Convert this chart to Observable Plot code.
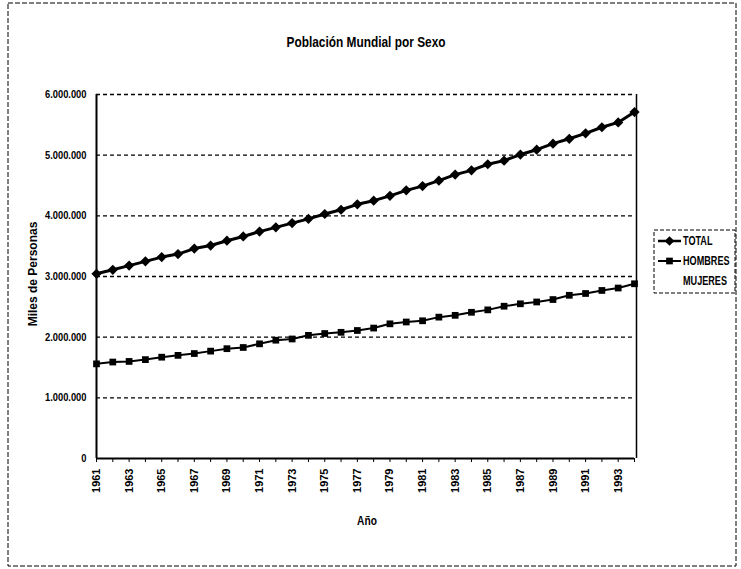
<!DOCTYPE html>
<html>
<head>
<meta charset="utf-8">
<script src="https://cdn.jsdelivr.net/npm/d3@7"></script>
<script src="https://cdn.jsdelivr.net/npm/@observablehq/plot@0.6"></script>
<style>
  html, body { margin: 0; padding: 0; background: #fff; }
  #chart svg { display: block; }
</style>
</head>
<body>
<div id="chart"></div>
<script>
const title = "Población Mundial por Sexo";
const yLabel = "Miles de Personas";
const xLabel = "Año";
const seriesNames = ["TOTAL", "HOMBRES", "MUJERES"];
const years = [1961,1962,1963,1964,1965,1966,1967,1968,1969,1970,1971,1972,1973,1974,1975,1976,1977,
               1978,1979,1980,1981,1982,1983,1984,1985,1986,1987,1988,1989,1990,1991,1992,1993,1994];
const total = [3045000,3110000,3180000,3250000,3320000,3370000,3460000,3510000,3590000,3660000,3740000,3810000,3880000,3950000,4030000,4100000,4190000,
               4250000,4330000,4420000,4490000,4580000,4680000,4750000,4850000,4910000,5010000,5090000,5190000,5270000,5360000,5460000,5540000,5710000];
const hombres = [1560000,1590000,1600000,1630000,1670000,1700000,1730000,1770000,1810000,1830000,1890000,1950000,1970000,2030000,2060000,2080000,2110000,
                 2150000,2220000,2250000,2270000,2330000,2360000,2410000,2450000,2510000,2550000,2580000,2620000,2690000,2720000,2770000,2810000,2880000];
const yTicks = [0,1000000,2000000,3000000,4000000,5000000,6000000];
const xTickLabels = [1961,1963,1965,1967,1969,1971,1973,1975,1977,1979,1981,1983,1985,1987,1989,1991,1993];

const FONT = '"Liberation Sans Narrow","Arial Narrow","Liberation Sans",Arial,sans-serif';
const fmt = d3.formatLocale({decimal: ",", thousands: ".", grouping: [3], currency: ["", ""]}).format(",");

const totalData = years.map((y, i) => ({year: y, value: total[i]}));
const hombresData = years.map((y, i) => ({year: y, value: hombres[i]}));

const W = 741, H = 569;
const plot = Plot.plot({
  width: W,
  height: H,
  marginLeft: 96,
  marginRight: 107,
  marginTop: 94,
  marginBottom: 111,
  style: {fontFamily: FONT, fontWeight: "bold", fontSize: "11px", color: "#000", background: "#fff"},
  x: {domain: [1961, 1994], label: null},
  y: {domain: [0, 6000000], label: null},
  marks: [
    Plot.ruleY(yTicks.filter(d => d > 0), {stroke: "#000", strokeWidth: 1.3, strokeDasharray: "4,3"}),
    Plot.axisY({ticks: yTicks, tickFormat: fmt, tickSize: 0, tickPadding: 10, fontSize: 11, fontWeight: "bold", label: null}),
    Plot.axisX({ticks: years, tickFormat: d => xTickLabels.includes(d) ? String(d) : "", tickSize: 4, tickPadding: 6,
                tickRotate: -90, fontSize: 11, fontWeight: "bold", label: null}),
    Plot.ruleX([1961], {stroke: "#000", strokeWidth: 2}),
    Plot.ruleX([1994], {stroke: "#000", strokeWidth: 1.5, dx: 2}),
    Plot.ruleY([0], {stroke: "#000", strokeWidth: 2}),
    Plot.line(totalData, {x: "year", y: "value", stroke: "#000", strokeWidth: 3}),
    Plot.dot(totalData, {x: "year", y: "value", symbol: "diamond2", fill: "#000", r: 4.6}),
    Plot.line(hombresData, {x: "year", y: "value", stroke: "#000", strokeWidth: 2}),
    Plot.dot(hombresData, {x: "year", y: "value", symbol: "square", fill: "#000", r: 3.8})
  ]
});

const svg = d3.select(plot);
// condense y tick labels to mimic the narrow typeface of the original
svg.selectAll('g[aria-label="y-axis tick label"] text').each(function() {
  const t = this.getAttribute("transform") || "";
  this.setAttribute("transform", t + " scale(0.85,1)");
});
// outer dashed border
svg.append("rect").attr("x", 8).attr("y", 3).attr("width", 728).attr("height", 563)
  .attr("fill", "none").attr("stroke", "#000").attr("stroke-width", 1).attr("stroke-dasharray", "5,2");
// title
svg.append("text").attr("transform", "translate(366,47) scale(0.82,1)").attr("text-anchor", "middle")
  .style("font-family", FONT).style("font-weight", "bold").style("font-size", "14.5px").text(title);
// y label
svg.append("text").attr("transform", "translate(37,274) rotate(-90)").attr("text-anchor", "middle")
  .style("font-family", FONT).style("font-weight", "bold").style("font-size", "12px").text(yLabel);
// x label
svg.append("text").attr("transform", "translate(367,525) scale(0.85,1)").attr("text-anchor", "middle")
  .style("font-family", FONT).style("font-weight", "bold").style("font-size", "12px").text(xLabel);

// legend
const lg = svg.append("g");
lg.append("rect").attr("x", 654).attr("y", 230).attr("width", 81).attr("height", 63)
  .attr("fill", "#fff").attr("stroke", "#000").attr("stroke-width", 1).attr("stroke-dasharray", "4,2");
const rows = [241, 261, 281];
const sym = [d3.symbolDiamond2, d3.symbolSquare, null];
seriesNames.forEach((name, i) => {
  const y = rows[i];
  if (sym[i]) {
    lg.append("line").attr("x1", 658).attr("x2", 681).attr("y1", y).attr("y2", y)
      .attr("stroke", "#000").attr("stroke-width", i === 0 ? 2.5 : 2);
    lg.append("path").attr("transform", `translate(669.5,${y})`)
      .attr("d", d3.symbol(sym[i], i === 0 ? 60 : 45)()).attr("fill", "#000");
  }
  lg.append("text").attr("transform", `translate(683,${y}) scale(0.76,1)`).attr("dy", "0.35em").attr("text-anchor", "start")
    .style("font-family", FONT).style("font-weight", "bold").style("font-size", "12px").text(name);
});

document.getElementById("chart").appendChild(plot);
</script>
</body>
</html>
